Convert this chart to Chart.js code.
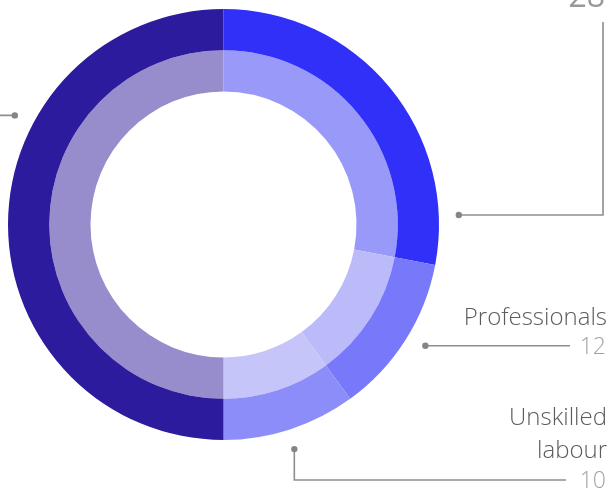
<!DOCTYPE html>
<html>
<head>
<meta charset="utf-8">
<script src="https://cdn.jsdelivr.net/npm/chart.js@4.4.1/dist/chart.umd.min.js"></script>
<style>
  html, body { margin: 0; padding: 0; background: #fff; overflow: hidden; }
  #wrap { width: 611px; height: 488px; position: relative; }
</style>
</head>
<body>
<div id="wrap"><canvas id="myChart" width="611" height="488"></canvas></div>
<script>
// workforce split, outer ring and inner ring
const categories = ['Skilled trades', 'Professionals', 'Unskilled labour', 'Other'];
const outerValues = [28, 12, 10, 50];
const innerValues = [28, 12, 10, 50];

const outerColours = ['#3030f9', '#7878fb', '#8d8df9', '#2d1b9d'];
const innerColours = ['#9999f9', '#bbbbf9', '#c5c5fa', '#978dcc'];

// callout placement: angle of the dot (deg, clockwise from top) and the elbow path
const callouts = [
  { angle: 87.7, path: [['x', 603], ['y', 22]], textX: 606, valueY: 7, valueFont: '400 32px', titleY: [-60, -30] },
  { angle: 121, path: [['x', 570]], textX: 607, valueY: 347, valueFont: '300 23px', titleY: [325] },
  { angle: 162.5, path: [['y', 480], ['x', 566]], textX: 607, valueY: 481, valueFont: '300 23px', titleY: [425, 458] },
  { angle: 297.6, path: [['x', -40]], textX: -50, valueY: 130, valueFont: '300 23px', titleY: [100] },
];

const calloutPlugin = {
  id: 'callouts',
  afterDraw(chart) {
    const ctx = chart.ctx;
    const arc = chart.getDatasetMeta(0).data[0];
    const cx = arc.x, cy = arc.y, r = arc.outerRadius + 20;
    ctx.save();
    callouts.forEach((c, i) => {
      const a = c.angle * Math.PI / 180;
      const dotX = cx + r * Math.sin(a);
      const dotY = cy - r * Math.cos(a);
      let x = dotX, y = dotY;
      ctx.strokeStyle = '#8e8e8e';
      ctx.lineWidth = 1.6;
      ctx.beginPath();
      ctx.moveTo(x, y);
      c.path.forEach(([axis, v]) => {
        if (axis === 'x') x = v; else y = v;
        ctx.lineTo(x, y);
      });
      ctx.stroke();
      ctx.fillStyle = '#858585';
      ctx.beginPath();
      ctx.arc(dotX, dotY, 3.2, 0, Math.PI * 2);
      ctx.fill();

      ctx.textAlign = 'right';
      // category name, split on spaces when it has two lines
      const words = c.titleY.length > 1 ? categories[i].split(' ') : [categories[i]];
      ctx.fillStyle = '#5c5c5c';
      ctx.font = '300 24px "Open Sans", sans-serif';
      ctx.textBaseline = 'alphabetic';
      words.forEach((w, k) => ctx.fillText(w, c.textX, c.titleY[k]));

      ctx.fillStyle = i === 0 ? '#999999' : '#a3a3a3';
      ctx.font = c.valueFont + ' "Open Sans", sans-serif';
      ctx.textBaseline = i === 0 ? 'alphabetic' : 'middle';
      ctx.fillText(String(outerValues[i]), c.textX - 1, c.valueY);
    });
    ctx.restore();
  }
};

const data = {
  labels: categories,
  datasets: [
    { data: outerValues, backgroundColor: outerColours },
    { data: innerValues, backgroundColor: innerColours },
  ]
};

const myChart = new Chart(document.getElementById('myChart'), {
  type: 'doughnut',
  data: data,
  options: {
    responsive: false,
    animation: false,
    cutout: 133,
    borderWidth: 0,
    hoverBorderWidth: 0,
    hoverOffset: 0,
    layout: { padding: { left: 8, top: 9, right: 172, bottom: 48 } },
    plugins: { legend: { display: false }, tooltip: { enabled: false } },
  },
  plugins: [calloutPlugin],
});
</script>
</body>
</html>
